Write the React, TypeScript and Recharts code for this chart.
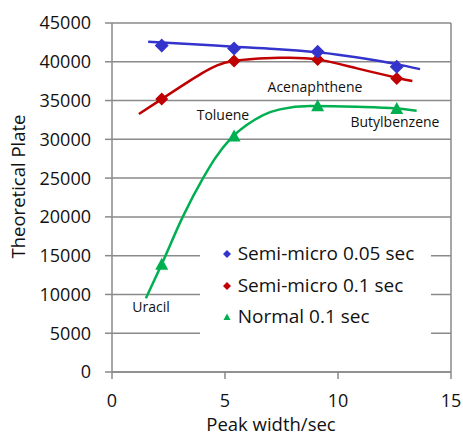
import React from 'react';
import { ComposedChart, Line, Scatter, XAxis, YAxis, CartesianGrid, ReferenceLine, Legend } from 'recharts';

// Measured points (peak width in sec vs theoretical plates)
const peakWidths = [2.2, 5.4, 9.1, 12.6];
const semiMicro005 = [42100, 41700, 41300, 39350];
const semiMicro01 = [35200, 40100, 40300, 37850];
const normal01 = [13800, 30350, 34250, 33900];

// Trend curves
const blueTrendX = [1.6, 3.8, 5.4, 7.2, 8.2, 9.1, 10, 10.8, 11.7, 12.6, 13.63];
const blueTrendY = [42580, 42220, 41950, 41656, 41446, 41212, 40915, 40595, 40172, 39695, 39050];
const redTrendX = [1.19, 2.2, 3.97, 5.37, 7.43, 9.08, 10.84, 12.6, 13.29];
const redTrendY = [33260, 35190, 38500, 40090, 40510, 40310, 39150, 37950, 37510];
const greenTrendX = [1.5, 2.2, 3.13, 4.04, 4.56, 5.22, 5.96, 6.69, 7.43, 8.76, 10.8, 12.6, 13.48];
const greenTrendY = [9500, 13900, 20000, 25050, 27550, 30000, 31840, 33130, 33860, 34290, 34200, 33970, 33680];

// Compound labels
const compoundNames = ['Uracil', 'Toluene', 'Acenaphthene', 'Butylbenzene'];
const compoundX = [1.73, 4.91, 8.98, 12.52];
const compoundY = [7770, 32480, 36130, 31540];

const xTicks = [0, 5, 10, 15];
const yTicks = [0, 5000, 10000, 15000, 20000, 25000, 30000, 35000, 40000, 45000];

const seriesNames = ['Semi-micro 0.05 sec', 'Semi-micro 0.1 sec', 'Normal 0.1 sec'];
const seriesColors = ['#3434CC', '#C00000', '#00B050'];
const seriesShapes = ['diamond', 'diamond', 'triangle'];

const toPoints = (xs: number[], ys: number[]) => xs.map((x, i) => ({ x, y: ys[i] }));

const blueDots = toPoints(peakWidths, semiMicro005);
const redDots = toPoints(peakWidths, semiMicro01);
const greenDots = toPoints(peakWidths, normal01);
const blueTrend = toPoints(blueTrendX, blueTrendY);
const redTrend = toPoints(redTrendX, redTrendY);
const greenTrend = toPoints(greenTrendX, greenTrendY);
const labels = compoundNames.map((label, i) => ({ x: compoundX[i], y: compoundY[i], label }));

const FONT = "'Open Sans', sans-serif";
const GRID = '#8a8a8a';

const makeDiamond = (color: string, r: number) => (props: any) => {
  const { cx, cy } = props;
  if (cx == null || cy == null) return <g />;
  return <polygon points={`${cx},${cy - r} ${cx + r},${cy} ${cx},${cy + r} ${cx - r},${cy}`} fill={color} />;
};

const makeTriangle = (color: string, w: number, h: number) => (props: any) => {
  const { cx, cy } = props;
  if (cx == null || cy == null) return <g />;
  return (
    <polygon
      points={`${cx},${cy - h * 0.6} ${cx + w / 2},${cy + h * 0.4} ${cx - w / 2},${cy + h * 0.4}`}
      fill={color}
    />
  );
};

const textShape = (props: any) => {
  const { cx, cy, payload } = props;
  if (cx == null || cy == null) return <g />;
  return (
    <text x={cx} y={cy} textAnchor="middle" fontSize={14} fill="#111" fontFamily={FONT}>
      {payload.label}
    </text>
  );
};

const LegendBox = () => (
  <div style={{ width: 231, height: 108, background: '#fff', paddingTop: 12, boxSizing: 'border-box', fontFamily: FONT }}>
    {seriesNames.map((name, i) => (
      <div key={name} style={{ display: 'flex', alignItems: 'center', height: 31.7 }}>
        <svg width={12} height={12} style={{ marginLeft: 20.7, flex: 'none' }}>
          {seriesShapes[i] === 'diamond' ? (
            <polygon points="6,2 10,6 6,10 2,6" fill={seriesColors[i]} />
          ) : (
            <polygon points="6,2.5 9.5,9 2.5,9" fill={seriesColors[i]} />
          )}
        </svg>
        <span style={{ marginLeft: 5, fontSize: 19, lineHeight: '31.7px', color: '#111', whiteSpace: 'nowrap' }}>{name}</span>
      </div>
    ))}
  </div>
);

const yLabel = () => (
  <text x={25} y={186.5} transform="rotate(-90 25 186.5)" textAnchor="middle" fontSize={18.5} fill="#111" fontFamily={FONT}>
    Theoretical Plate
  </text>
);

const xLabel = () => (
  <text x={271} y={431} textAnchor="middle" fontSize={18.5} fill="#111" fontFamily={FONT}>
    Peak width/sec
  </text>
);

export default function App() {
  return (
    <div style={{ width: 463, height: 435, background: '#fff' }}>
      <style>{`body{margin:0;background:#fff;}`}</style>
      <ComposedChart
        width={463}
        height={435}
        margin={{ top: 23, right: 12, bottom: 0, left: 0 }}
        style={{ fontFamily: FONT }}
      >
        <CartesianGrid vertical={false} stroke={GRID} strokeWidth={1.5} />
        <XAxis
          type="number"
          dataKey="x"
          domain={[0, 15]}
          ticks={xTicks}
          height={63}
          tickSize={7}
          tickMargin={15}
          stroke={GRID}
          strokeWidth={1.5}
          tick={{ fontSize: 18, fill: '#111', fontFamily: FONT }}
          label={{ content: xLabel }}
          allowDataOverflow
        />
        <YAxis
          type="number"
          dataKey="y"
          domain={[0, 45000]}
          ticks={yTicks}
          width={112}
          tickSize={7}
          tickMargin={14}
          stroke={GRID}
          strokeWidth={1.5}
          tick={{ fontSize: 18, fill: '#111', fontFamily: FONT }}
          label={{ content: yLabel }}
          allowDataOverflow
        />
        <ReferenceLine x={15} stroke={GRID} strokeWidth={1.5} />
        <Line data={greenTrend} dataKey="y" type="monotone" stroke={seriesColors[2]} strokeWidth={2.5} dot={false} isAnimationActive={false} legendType="none" />
        <Line data={redTrend} dataKey="y" type="natural" stroke={seriesColors[1]} strokeWidth={2.5} dot={false} isAnimationActive={false} legendType="none" />
        <Line data={blueTrend} dataKey="y" type="monotone" stroke={seriesColors[0]} strokeWidth={2.5} dot={false} isAnimationActive={false} legendType="none" />
        <Scatter data={greenDots} dataKey="y" name={seriesNames[2]} fill={seriesColors[2]} shape={makeTriangle(seriesColors[2], 13, 12)} isAnimationActive={false} />
        <Scatter data={redDots} dataKey="y" name={seriesNames[1]} fill={seriesColors[1]} shape={makeDiamond(seriesColors[1], 6.5)} isAnimationActive={false} />
        <Scatter data={blueDots} dataKey="y" name={seriesNames[0]} fill={seriesColors[0]} shape={makeDiamond(seriesColors[0], 7)} isAnimationActive={false} />
        <Scatter data={labels} dataKey="y" shape={textShape} isAnimationActive={false} legendType="none" />
        <Legend
          layout="horizontal"
          verticalAlign="middle"
          align="center"
          content={<LegendBox />}
          wrapperStyle={{ position: 'absolute', left: 200, top: 226, width: 231, height: 108 }}
        />
      </ComposedChart>
    </div>
  );
}
